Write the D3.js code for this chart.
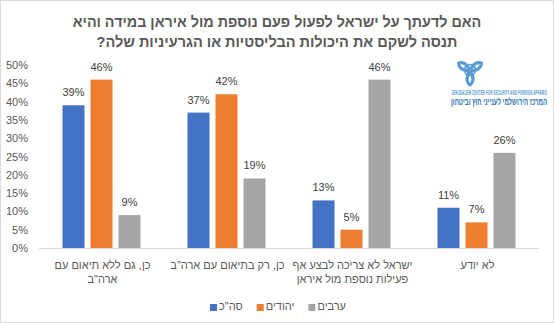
<!DOCTYPE html>
<html>
<head>
<meta charset="utf-8">
<script src="https://cdn.jsdelivr.net/npm/d3@7"></script>
<style>
  body { margin: 0; background: #fff; }
  svg { display: block; font-family: "Liberation Sans", Arial, sans-serif; }
</style>
</head>
<body>
<div id="chart"></div>
<script>
// data
const titleLines = ["האם לדעתך על ישראל לפעול פעם נוספת מול איראן במידה והיא",
                    "תנסה לשקם את היכולות הבליסטיות או הגרעיניות שלה?"];
const titleWidths = [409, 361];
const categories = ["yes-no-coord", "yes-coord", "no-action", "dont-know"];
const categoryLabels = [
    ["כן, גם ללא תיאום עם", "ארה\"ב"],
    ["כן, רק בתיאום עם ארה\"ב"],
    ["ישראל לא צריכה לבצע אף", "פעילות נוספת מול איראן"],
    ["לא יודע"]
];
const seriesNames = ["סה\"כ", "יהודים", "ערבים"];
const seriesColors = ["#4472c4", "#ed7d31", "#a5a5a5"];
const totalValues = [39, 37, 13, 11];
const jewsValues = [46, 42, 5, 7];
const arabsValues = [9, 19, 46, 26];
const yTicks = [0, 5, 10, 15, 20, 25, 30, 35, 40, 45, 50];

const seriesValues = [totalValues, jewsValues, arabsValues];

var width = 554, height = 323;
var margin = {top: 65, right: 15, bottom: 75, left: 39};

var svg = d3.select("#chart")
    .append("svg")
    .attr("width", width)
    .attr("height", height);

// squeeze a centred text horizontally to a given width
const fitText = function (sel, cx, cy, targetW) {
    sel.attr("x", 0).attr("y", 0);
    var w = sel.node().getBBox().width;
    var s = targetW / w;
    sel.attr("transform", "translate(" + cx + "," + cy + ") scale(" + s + ",1)");
}

// outer frame
svg.append("rect")
    .attr("x", 0.5).attr("y", 0.5)
    .attr("width", width - 1).attr("height", height - 1)
    .attr("fill", "#fff")
    .attr("stroke", "#d9d9d9");

// title
titleLines.forEach((line, i) => {
    var t = svg.append("text")
        .attr("text-anchor", "middle")
        .attr("direction", "rtl")
        .style("font-size", "15px")
        .style("font-weight", "bold")
        .attr("fill", "#595959")
        .text(line);
    fitText(t, 277, 27 + i * 20, titleWidths[i]);
});

var x0 = d3.scaleBand()
    .domain(categories)
    .range([margin.left, width - margin.right]);

var x1 = d3.scaleBand()
    .domain(d3.range(seriesNames.length))
    .range([23.5, 101.5])
    .paddingInner(0.214);

var y = d3.scaleLinear()
    .domain([0, 50])
    .range([height - margin.bottom, margin.top]);

// y axis labels only, no line
var yAxis = svg.append("g")
    .attr("transform", "translate(" + (margin.left - 8) + ",0)")
    .call(d3.axisLeft(y).tickValues(yTicks).tickSize(0).tickFormat(d => d + "%"));
yAxis.select(".domain").remove();
yAxis.selectAll("text")
    .attr("fill", "#595959")
    .style("font-size", "11px")
    .style("font-family", "Liberation Sans, Arial, sans-serif");

// baseline
svg.append("line")
    .attr("x1", margin.left).attr("x2", width - margin.right)
    .attr("y1", y(0) + 0.5).attr("y2", y(0) + 0.5)
    .attr("stroke", "#d9d9d9");

// bars
var groups = svg.selectAll("g.group")
    .data(categories)
    .enter()
    .append("g")
    .attr("class", "group")
    .attr("transform", d => "translate(" + x0(d) + ",0)");

groups.each(function (cat, ci) {
    var g = d3.select(this);
    seriesValues.forEach((vals, si) => {
        g.append("rect")
            .attr("x", x1(si))
            .attr("y", y(vals[ci]))
            .attr("width", x1.bandwidth())
            .attr("height", y(0) - y(vals[ci]))
            .attr("fill", seriesColors[si]);
        g.append("text")
            .attr("x", x1(si) + x1.bandwidth() / 2)
            .attr("y", y(vals[ci]) - 9)
            .attr("text-anchor", "middle")
            .style("font-size", "11px")
            .attr("fill", "#404040")
            .text(vals[ci] + "%");
    });
});

// category labels
categories.forEach((cat, ci) => {
    svg.append("g")
        .selectAll("text")
        .data(categoryLabels[ci])
        .enter()
        .append("text")
        .attr("x", x0(cat) + x0.bandwidth() / 2 + 1)
        .attr("y", (d, i) => 269 + i * 14)
        .attr("text-anchor", "middle")
        .attr("direction", "rtl")
        .style("font-size", "11px")
        .attr("fill", "#595959")
        .text(d => d);
});

// legend
var legend = svg.append("g");
var items = seriesNames.map((name, i) => {
    var it = legend.append("g");
    it.append("rect").attr("width", 7).attr("height", 7).attr("y", -6).attr("fill", seriesColors[i]);
    var t = it.append("text")
        .attr("x", 9)
        .style("font-size", "11px")
        .attr("fill", "#595959")
        .text(name);
    return {it: it, w: 9 + t.node().getComputedTextLength()};
});
var gap = 14;
var total = d3.sum(items, d => d.w) + gap * (items.length - 1);
var lx = 278 - total / 2;
items.forEach(d => {
    d.it.attr("transform", "translate(" + lx + ",310)");
    lx += d.w + gap;
});

// logo (top right)
var logoBlue = "#5b9bd5";
var logo = svg.append("g").attr("transform", "translate(470,71)");
const leaf = "M0,0 Q6,-9 0,-14 Q-6,-9 0,0 Z";
[-55, 55, 180].forEach(a => {
    logo.append("path")
        .attr("d", leaf)
        .attr("transform", "rotate(" + a + ")")
        .attr("fill", "none")
        .attr("stroke", logoBlue)
        .attr("stroke-width", 3.2)
        .attr("stroke-linejoin", "round");
});
logo.append("circle")
    .attr("r", 5.5).attr("cy", -1)
    .attr("fill", "none").attr("stroke", logoBlue).attr("stroke-width", 1.6);
var en = svg.append("text")
    .attr("text-anchor", "middle")
    .style("font-size", "6.5px")
    .style("font-weight", "bold")
    .attr("fill", "#5b9bd5")
    .text("JERUSALEM CENTER FOR SECURITY AND FOREIGN AFFAIRS");
fitText(en, 499, 95, 96);
var he = svg.append("text")
    .attr("text-anchor", "middle")
    .style("font-size", "10px")
    .style("font-weight", "bold")
    .attr("fill", "#2e75b6")
    .text("המרכז הירושלמי לענייני חוץ וביטחון");
fitText(he, 499, 105, 96);
</script>
</body>
</html>
